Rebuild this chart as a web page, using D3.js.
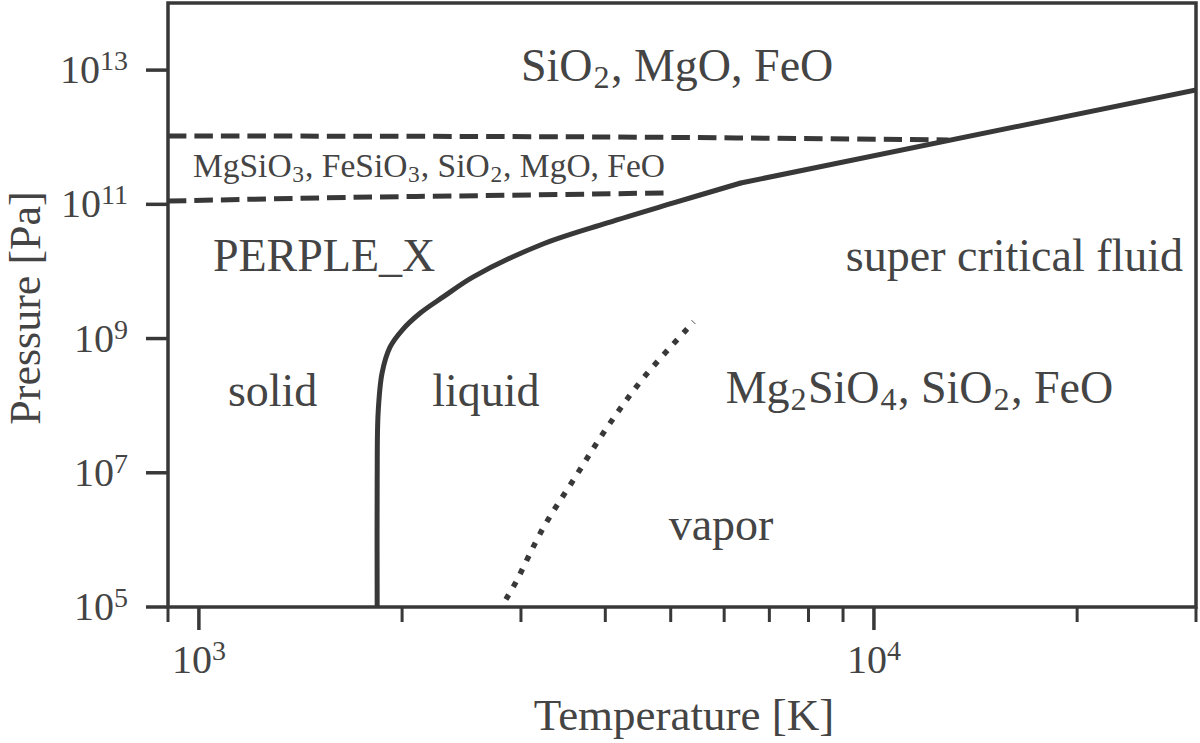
<!DOCTYPE html>
<html><head><meta charset="utf-8">
<script src="https://cdn.jsdelivr.net/npm/d3@7"></script>
<style>body{margin:0;background:#fff}svg{display:block}</style>
</head><body><svg id="c" width="1200" height="743"></svg>
<script>
// ---- data ----
const xDomain = [900, 30000];
const yDomain = [1e5, 1e14];
const xMajorTicks = [1e3, 1e4];
const xMinorTicks = [900, 2000, 3000, 4000, 5000, 6000, 7000, 8000, 9000, 20000, 30000];
const yMajorTicks = [1e5, 1e7, 1e9, 1e11, 1e13];
const xTickExp = ["3", "4"];
const yTickExp = ["5", "7", "9", "11", "13"];

// melting curve (solid)
const meltT = [1837, 1837, 1843, 1868, 1920, 2001, 2128, 2301, 2550, 3206, 4027, 5047, 6349];
const meltP = [1e5, 7.8e6, 7.8e7, 3.07e8, 7.5e8, 1.34e9, 2.4e9, 4.17e9, 8.3e9, 2.48e10, 5.28e10, 1.05e11, 2.08e11];
const highT = [6349, 30000];
const highP = [2.08e11, 5.07e12];
// upper phase boundary (dashed)
const upperT = [900, 3932, 12900];
const upperP = [1.045e12, 1.01e12, 9.1e11];
// lower phase boundary (dashed)
const lowerT = [900, 1675, 2638, 4966];
const lowerP = [1.12e11, 1.27e11, 1.35e11, 1.48e11];
// vapor boundary (dotted)
const vapT = [2850, 2944, 3236, 3611, 4029, 4556, 5407];
const vapP = [1.3e5, 2.28e5, 1.5e6, 8.65e6, 4.82e7, 2.59e8, 1.77e9];

// region labels
const labelText = [
  [["SiO"],["2","sub"],[", MgO, FeO"]],
  [["MgSiO"],["3","sub"],[", FeSiO"],["3","sub"],[", SiO"],["2","sub"],[", MgO, FeO"]],
  [["PERPLE_X"]],
  [["solid"]],
  [["liquid"]],
  [["super critical fluid"]],
  [["Mg"],["2","sub"],["SiO"],["4","sub"],[", SiO"],["2","sub"],[", FeO"]],
  [["vapor"]]
];
const labelT = [3000, 980, 1049, 1104, 2217, 9087, 6031, 4966];
const labelP = [7e12, 2.56e11, 1e10, 1e8, 1e8, 1e10, 1.1e8, 1e6];
const labelSmall = [false, true, false, false, false, false, false, false];

// ---- layout ----
const L = 168, R = 1196, T0 = 3, B = 607;
const ink = "#383838", txt = "#444";
const svg = d3.select("#c");
svg.append("rect").attr("width",1200).attr("height",743).attr("fill","#fff");
const x = d3.scaleLog().domain(xDomain).range([L, R]);
const y = d3.scaleLog().domain(yDomain).range([B, T0]);
const font = "'Liberation Serif','Times New Roman',serif";

const g = svg.append("g");
svg.append("clipPath").attr("id","pc").append("rect")
  .attr("x",L).attr("y",T0).attr("width",R-L).attr("height",B-T0);
const plot = g.append("g").attr("clip-path","url(#pc)");

const lineLin = d3.line().x(d=>x(d[0])).y(d=>y(d[1]));
const lineCR = d3.line().x(d=>x(d[0])).y(d=>y(d[1])).curve(d3.curveCatmullRom.alpha(0.5));
const zip = (a,b)=>a.map((v,i)=>[v,b[i]]);

plot.append("path").attr("d", lineCR(zip(meltT, meltP)))
  .attr("fill","none").attr("stroke",ink).attr("stroke-width",5).attr("stroke-linejoin","round");
plot.append("path").attr("d", lineLin(zip(highT, highP)))
  .attr("fill","none").attr("stroke",ink).attr("stroke-width",5).attr("stroke-linecap","round");
plot.append("path").attr("d", lineCR(zip(upperT, upperP)))
  .attr("fill","none").attr("stroke",ink).attr("stroke-width",5).attr("stroke-dasharray","18.5,8");
plot.append("path").attr("d", lineCR(zip(lowerT, lowerP)))
  .attr("fill","none").attr("stroke",ink).attr("stroke-width",5).attr("stroke-dasharray","18.5,8");
plot.append("path").attr("d", lineCR(zip(vapT, vapP)))
  .attr("fill","none").attr("stroke",ink).attr("stroke-width",5.5).attr("stroke-dasharray","5.5,9.1");

// labels
labelText.forEach((parts,i)=>{
  const fs = labelSmall[i] ? 33.5 : 46;
  const t = g.append("text").attr("x", x(labelT[i])).attr("y", y(labelP[i]))
    .attr("font-family", font).attr("font-size", fs).attr("fill", txt);
  let shifted = false;
  parts.forEach(p=>{
    const sp = t.append("tspan").text(p[0]);
    if (p[1]==="sub") { sp.attr("font-size", fs*0.7).attr("dy", fs*0.16).attr("dx", fs*0.02); shifted = true; }
    else if (shifted) { sp.attr("dy", -fs*0.16).attr("dx", fs*0.03); shifted = false; }
  });
});

// spines
g.append("rect").attr("x",L).attr("y",T0).attr("width",R-L).attr("height",B-T0)
  .attr("fill","none").attr("stroke",ink).attr("stroke-width",3.5);

// x ticks
xMinorTicks.forEach(v=>{
  g.append("line").attr("x1",x(v)).attr("x2",x(v)).attr("y1",B).attr("y2",B+15)
    .attr("stroke",ink).attr("stroke-width",3);
});
xMajorTicks.forEach((v,i)=>{
  g.append("line").attr("x1",x(v)).attr("x2",x(v)).attr("y1",B).attr("y2",B+23)
    .attr("stroke",ink).attr("stroke-width",3.5);
  const t = g.append("text").attr("x",x(v)).attr("y",673).attr("text-anchor","middle")
    .attr("font-family",font).attr("font-size",40).attr("fill",txt);
  t.append("tspan").text("10");
  t.append("tspan").text(xTickExp[i]).attr("font-size",28).attr("dy",-13);
});
// y ticks
yMajorTicks.forEach((v,i)=>{
  g.append("line").attr("x1",L-22).attr("x2",L).attr("y1",y(v)).attr("y2",y(v))
    .attr("stroke",ink).attr("stroke-width",3.5);
  const t = g.append("text").attr("x",128).attr("y",y(v)+13).attr("text-anchor","end")
    .attr("font-family",font).attr("font-size",40).attr("fill",txt);
  t.append("tspan").text("10");
  t.append("tspan").text(yTickExp[i]).attr("font-size",28).attr("dy",-13);
});

// axis titles
g.append("text").attr("x",(L+R)/2+2).attr("y",730).attr("text-anchor","middle")
  .attr("font-family",font).attr("font-size",45).attr("fill",txt).text("Temperature [K]");
g.append("text").attr("transform",`translate(40,${(T0+B)/2+3}) rotate(-90)`).attr("text-anchor","middle")
  .attr("font-family",font).attr("font-size",44).attr("fill",txt).text("Pressure [Pa]");
</script></body></html>
